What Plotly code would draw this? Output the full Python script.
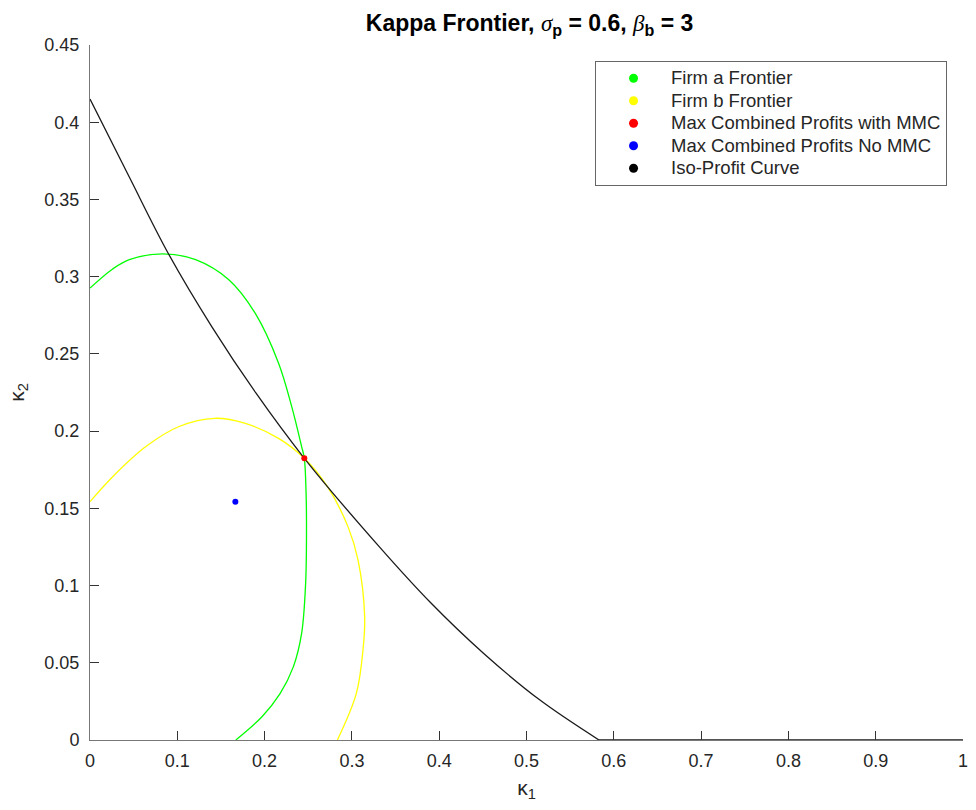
import plotly.graph_objects as go

# ---- data ----
firm_a_x = [0, 0.026, 0.045, 0.083, 0.121, 0.159, 0.189, 0.216, 0.231, 0.2424, 0.2455,
            0.2475, 0.248, 0.247, 0.2424, 0.233, 0.2177, 0.197, 0.167]
firm_a_y = [0.2926, 0.305, 0.311, 0.3148, 0.311, 0.298, 0.2765, 0.244, 0.216, 0.190, 0.1824,
            0.160, 0.134, 0.1015, 0.069, 0.0475, 0.030, 0.0151, 0.0]

firm_b_x = [0, 0.026, 0.064, 0.102, 0.143, 0.178, 0.216, 0.2455, 0.272, 0.2956, 0.307,
            0.3146, 0.3127, 0.305, 0.2834]
firm_b_y = [0.1543, 0.1705, 0.190, 0.203, 0.2083, 0.205, 0.1953, 0.1824, 0.164, 0.138, 0.1166,
            0.0799, 0.0583, 0.030, 0.0]

iso_x = [0, 0.045, 0.09, 0.14, 0.19, 0.2455, 0.33, 0.39, 0.451, 0.515, 0.583]
iso_y = [0.415, 0.3645, 0.3147, 0.2672, 0.2247, 0.1824, 0.126, 0.089, 0.056, 0.026, 0.0]
iso_flat_x = [0.583, 1.0]
iso_flat_y = [0.0, 0.0]

mmc_x = [0.2455]
mmc_y = [0.1824]
nommc_x = [0.1665]
nommc_y = [0.1543]

x_ticks = [0, 0.1, 0.2, 0.3, 0.4, 0.5, 0.6, 0.7, 0.8, 0.9, 1.0]
x_ticktext = ["0", "0.1", "0.2", "0.3", "0.4", "0.5", "0.6", "0.7", "0.8", "0.9", "1"]
y_ticks = [0, 0.05, 0.1, 0.15, 0.2, 0.25, 0.3, 0.35, 0.4, 0.45]
y_ticktext = ["0", "0.05", "0.1", "0.15", "0.2", "0.25", "0.3", "0.35", "0.4", "0.45"]

legend_names = ["Firm a Frontier", "Firm b Frontier", "Max Combined Profits with MMC",
                "Max Combined Profits No MMC", "Iso-Profit Curve"]
legend_colors = ["#00ff00", "#ffff00", "#ff0000", "#0000ff", "#000000"]

FONT = "Liberation Sans, Arial, Helvetica, sans-serif"

fig = go.Figure()

fig.add_trace(go.Scatter(x=firm_a_x, y=firm_a_y, mode="lines", line=dict(color="#00ff00", width=1.3, shape="spline"),
                         showlegend=False, hoverinfo="skip"))
fig.add_trace(go.Scatter(x=firm_b_x, y=firm_b_y, mode="lines", line=dict(color="#ffff00", width=1.3, shape="spline"),
                         showlegend=False, hoverinfo="skip"))
fig.add_trace(go.Scatter(x=iso_x, y=iso_y, mode="lines", line=dict(color="#1a1a1a", width=1.3, shape="spline"),
                         showlegend=False, hoverinfo="skip"))
fig.add_trace(go.Scatter(x=iso_flat_x, y=iso_flat_y, mode="lines", line=dict(color="#1a1a1a", width=1.6),
                         showlegend=False, hoverinfo="skip"))
fig.add_trace(go.Scatter(x=mmc_x, y=mmc_y, mode="markers", marker=dict(color="#ff0000", size=6),
                         showlegend=False))
fig.add_trace(go.Scatter(x=nommc_x, y=nommc_y, mode="markers", marker=dict(color="#0000ff", size=6),
                         showlegend=False))

for name, col in zip(legend_names, legend_colors):
    fig.add_trace(go.Scatter(x=[None], y=[None], mode="markers",
                             name="<span style=\"font-size:18.5px\">" + name + "</span>",
                             marker=dict(color=col, size=9)))

greek = "<span style=\"font-family:Liberation Serif;font-weight:normal\"><i>{}</i></span>"
title_text = ("Kappa Frontier, " + greek.format("σ") + "<sub>p</sub> = 0.6, "
              + greek.format("β") + "<sub>b</sub> = 3")

fig.update_layout(
    width=976, height=810,
    margin=dict(l=90, r=8, t=45, b=70),
    paper_bgcolor="white", plot_bgcolor="white",
    font=dict(family=FONT, size=18, color="#262626"),
    title=dict(text=title_text, x=0.5426, xanchor="center", y=0.972, yanchor="middle",
               font=dict(family=FONT, size=23, color="#000000", weight="bold")),
    showlegend=True,
    legend=dict(x=0.5785, y=0.977, xanchor="left", yanchor="top",
                bordercolor="#666666", borderwidth=1, bgcolor="white",
                font=dict(family=FONT, size=15, color="#262626"),
                itemwidth=65, tracegroupgap=0),
    xaxis=dict(range=[0, 1], tickvals=x_ticks, ticktext=x_ticktext, ticks="inside", ticklen=9,
               tickcolor="#333333", showline=True, linecolor="#777777", linewidth=1,
               showgrid=False, zeroline=False, mirror=False, ticklabelstandoff=4,
               title=dict(text="κ<sub>1</sub>", font=dict(size=21), standoff=10)),
    yaxis=dict(range=[0, 0.45], tickvals=y_ticks, ticktext=y_ticktext, ticks="inside", ticklen=9,
               tickcolor="#333333", showline=True, linecolor="#777777", linewidth=1,
               showgrid=False, zeroline=False, mirror=False, ticklabelstandoff=6,
               title=dict(text="κ<sub>2</sub>", font=dict(size=21), standoff=14)),
)

fig.write_html("out.html")
